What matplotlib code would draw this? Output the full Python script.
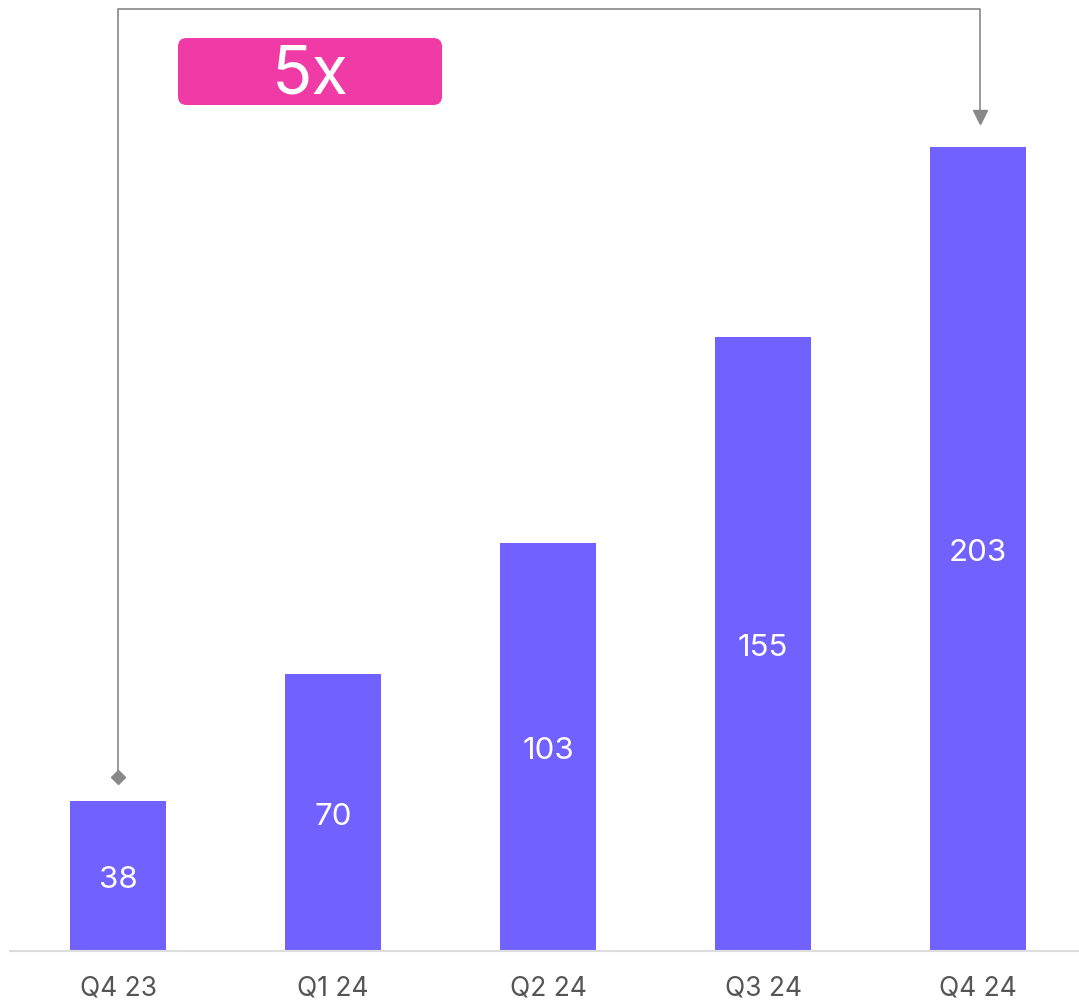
import matplotlib.pyplot as plt
from matplotlib.patches import FancyBboxPatch

plt.rcParams['font.family'] = ['Inter', 'DejaVu Sans']

quarters = ["Q4 23", "Q1 24", "Q2 24", "Q3 24", "Q4 24"]
values = [38, 70, 103, 155, 203]
growth_label = "5x"

bar_color = "#7161FF"
pink = "#F03AA6"
gray = "#888888"

fig = plt.figure(figsize=(10.79, 10.04), dpi=100)
# axes placed in pixel terms: baseline at y=951, left edge at x=10
ax = fig.add_axes([10 / 1079, 52 / 1004, 1069 / 1079, 952 / 1004])
ax.set_xlim(-108 / 215, 4 + 101 / 215)
ax.set_ylim(0, 952 / 3.96)

x = range(len(values))
ax.bar(x, values, width=96 / 215, color=bar_color, zorder=2)

for i, v in enumerate(values):
    ax.text(i, v / 2 - 0.8, str(v), ha="center", va="center",
            color="white", fontsize=22.5, zorder=3)

for s in ["top", "right", "left"]:
    ax.spines[s].set_visible(False)
ax.spines["bottom"].set_color("#dddddd")
ax.spines["bottom"].set_linewidth(1.5)
ax.set_yticks([])
ax.set_xticks(list(x))
ax.set_xticklabels(quarters, fontsize=19, color="#555555")
ax.tick_params(axis="x", length=0, pad=17)

# bracket from first bar to last bar
y_start = values[0] + 6
y_top = 238
y_end = values[-1] + 5.5
x0, x1 = 0, len(values) - 1 + 0.01
ax.plot([x0, x0, x1, x1], [y_start, y_top, y_top, y_end + 3],
        color=gray, lw=1.2, clip_on=False, zorder=1)
ax.plot(x0, y_start, marker="D", color=gray, markersize=7, zorder=1)
ax.plot(x1, y_end + 2, marker="v", color=gray, markersize=10, zorder=1)

# pink growth badge
bx0, bx1 = 60 / 215, 324 / 215
by0, by1 = (951 - 105) / 3.96, (951 - 38) / 3.96
badge = FancyBboxPatch((bx0, by0), bx1 - bx0, by1 - by0,
                       boxstyle="round,pad=0,rounding_size=0.04",
                       mutation_aspect=54.3 / 1,
                       facecolor=pink, edgecolor="none", zorder=2)
ax.add_patch(badge)
ax.text((bx0 + bx1) / 2, (by0 + by1) / 2 - 1, growth_label,
        ha="center", va="center", color="white", fontsize=48, zorder=3)

fig.savefig("out.png", dpi=100)
